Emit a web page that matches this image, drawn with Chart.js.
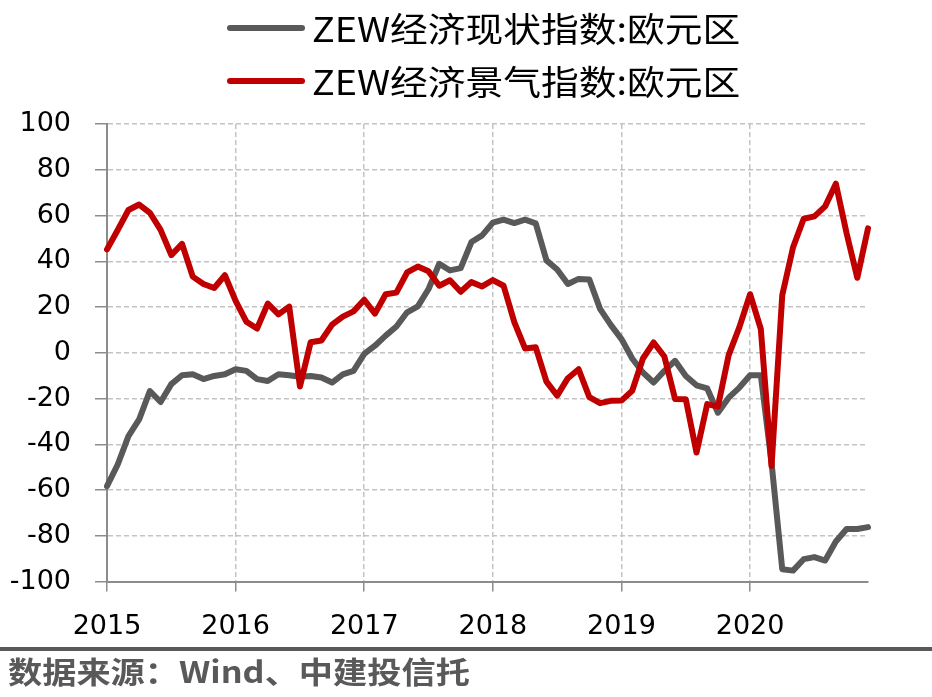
<!DOCTYPE html>
<html>
<head>
<meta charset="utf-8">
<script src="https://cdn.jsdelivr.net/npm/chart.js@4"></script>
<style>
  html, body { margin: 0; padding: 0; background: #fff; }
  #wrap { width: 932px; height: 697px; position: relative; }
</style>
</head>
<body>
<div id="wrap"><canvas id="zewChart"></canvas></div>
<script>
// ZEW data, monthly Jan 2015 - Dec 2020
const years = ["2015", "2016", "2017", "2018", "2019", "2020"];
const months = ["01", "02", "03", "04", "05", "06", "07", "08", "09", "10", "11", "12"];

const currentSituation = [
  -58.3, -48.8, -36.4, -29.1, -16.7, -21.5, -13.7, -9.8, -9.4, -11.5, -10.1, -9.4,
  -7.2, -7.9, -11.5, -12.3, -9.4, -9.8, -10.5, -10.1, -10.8, -13.0, -9.4, -7.9,
  -0.5, 3.1, 7.5, 11.5, 17.7, 20.3, 27.9, 38.9, 36.0, 37.0, 48.4, 51.3,
  56.9, 58.2, 56.7, 58.2, 56.6, 40.4, 36.4, 30.1, 32.3, 32.0, 19.2, 12.2,
  6.0, -2.5, -8.6, -13.0, -7.9, -3.5, -10.1, -14.2, -15.6, -26.2, -19.6, -15.2,
  -9.8, -9.8, -48.0, -94.6, -95.2, -90.2, -89.3, -90.8, -82.5, -77.0, -77.0, -76.2,
];

const sentiment = [
  45.2, 53.7, 62.4, 64.8, 61.2, 53.7, 42.7, 47.6, 33.3, 30.1, 28.3, 33.9,
  22.7, 13.6, 10.6, 21.5, 16.8, 20.2, -14.7, 4.6, 5.4, 12.3, 15.8, 18.1,
  23.2, 17.1, 25.6, 26.3, 35.1, 37.7, 35.6, 29.3, 31.7, 26.7, 30.9, 29.0,
  31.8, 29.3, 13.4, 1.9, 2.4, -12.6, -18.7, -11.1, -7.2, -19.4, -22.0, -21.0,
  -20.9, -16.6, -2.5, 4.5, -1.6, -20.2, -20.3, -43.6, -22.4, -23.5, -1.0, 11.2,
  25.6, 10.4, -49.5, 25.2, 46.0, 58.6, 59.6, 64.0, 73.9, 52.3, 32.8, 54.4,
];

const labels = years.flatMap((y) => months.map((m) => y + "-" + m));

const gridColor = "#c3c3c3";
const axisColor = "#8c8c8c";
const tickFont = { family: "DejaVu Sans", size: 27 };

// legend drawn by hand: two rows, line sample + text, a bit stretched like the original
const legendPlugin = {
  id: "handLegend",
  afterDraw(chart) {
    const c = chart.ctx;
    const rows = [28, 81];
    chart.data.datasets.forEach((ds, i) => {
      const y = rows[i];
      c.save();
      c.strokeStyle = ds.borderColor;
      c.lineWidth = 6;
      c.lineCap = "round";
      c.beginPath();
      c.moveTo(230, y);
      c.lineTo(302, y);
      c.stroke();
      c.fillStyle = "#000";
      c.font = "34px 'Noto Sans CJK SC'";
      c.textBaseline = "middle";
      c.translate(312, y + 1);
      c.scale(1.11, 1);
      c.fillText(ds.label, 0, 0);
      c.restore();
    });
  },
};

// separator line + source text under the chart
const footerPlugin = {
  id: "footer",
  afterDraw(chart) {
    const c = chart.ctx;
    c.save();
    c.fillStyle = "#595959";
    c.fillRect(0, 647, chart.width, 4);
    c.font = "bold 30px 'Noto Sans CJK SC'";
    c.textBaseline = "middle";
    c.textAlign = "left";
    c.translate(8, 672);
    c.scale(1.14, 1);
    c.fillText("数据来源：Wind、中建投信托", 0, 0);
    c.restore();
  },
};

const ctx = document.getElementById("zewChart").getContext("2d");

new Chart(ctx, {
  type: "line",
  data: {
    labels: labels,
    datasets: [
      {
        label: "ZEW经济现状指数:欧元区",
        data: currentSituation,
        borderColor: "#595959",
        backgroundColor: "#595959",
        borderWidth: 6,
        borderCapStyle: "round",
        borderJoinStyle: "round",
        pointRadius: 0,
        tension: 0,
        order: 1,
      },
      {
        label: "ZEW经济景气指数:欧元区",
        data: sentiment,
        borderColor: "#c00000",
        backgroundColor: "#c00000",
        borderWidth: 6,
        borderCapStyle: "round",
        borderJoinStyle: "round",
        pointRadius: 0,
        tension: 0,
        order: 0,
      },
    ],
  },
  options: {
    responsive: true,
    maintainAspectRatio: false,
    animation: false,
    layout: {
      padding: { left: 10, right: 64, top: 124, bottom: 35 },
    },
    plugins: {
      legend: { display: false },
      tooltip: { enabled: false },
    },
    scales: {
      x: {
        offset: false,
        grid: {
          display: true,
          offset: false,
          color: (c) => (c.index % 12 === 0 ? gridColor : "rgba(0,0,0,0)"),
          tickColor: (c) => (c.index % 12 === 0 ? axisColor : "rgba(0,0,0,0)"),
          tickLength: 10,
          lineWidth: 1.5,
        },
        border: { display: true, color: axisColor, width: 2, dash: [5, 3] },
        ticks: {
          autoSkip: false,
          maxRotation: 0,
          padding: 19,
          color: "#000",
          font: tickFont,
          callback: function (value, index) {
            return index % 12 === 0 ? labels[index].slice(0, 4) : "";
          },
        },
      },
      y: {
        min: -100,
        max: 100,
        afterFit: (scale) => {
          scale.width = 97;
        },
        grid: {
          color: gridColor,
          tickColor: axisColor,
          tickLength: 12,
          lineWidth: 1.5,
        },
        border: { display: true, color: axisColor, width: 2, dash: [5, 3] },
        ticks: {
          stepSize: 20,
          padding: 24,
          color: "#000",
          font: tickFont,
        },
      },
    },
  },
  plugins: [legendPlugin, footerPlugin],
});
</script>
</body>
</html>
